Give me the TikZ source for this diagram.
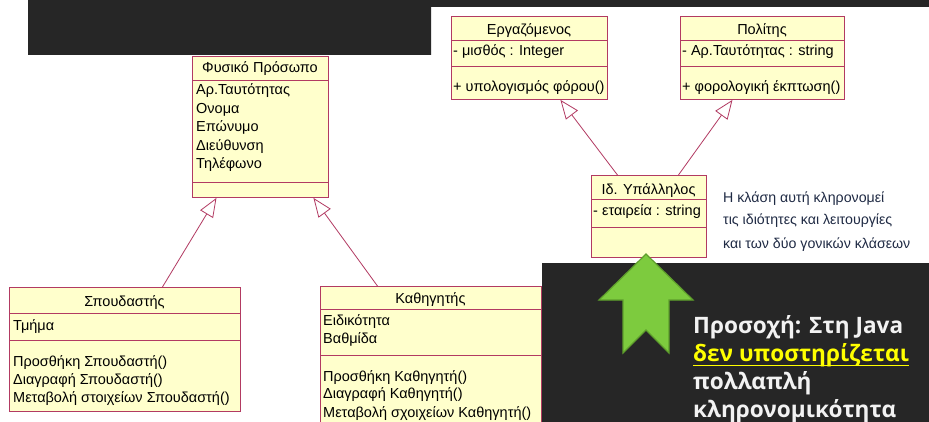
\documentclass[tikz,border=0pt]{standalone}
\usepackage{fontspec}
\setmainfont{Liberation Sans}
\newfontfamily\notefont{Open Sans}
\usetikzlibrary{arrows.meta,calc}
\definecolor{darkbg}{HTML}{262626}
\definecolor{clsfill}{HTML}{FFFFCC}
\definecolor{clsline}{HTML}{B23A62}
\definecolor{notecol}{HTML}{1F2A44}
\definecolor{grfill}{HTML}{7DCB3E}
\definecolor{grline}{HTML}{5E9E2C}
\definecolor{jyellow}{HTML}{FFFF00}
\definecolor{jwhite}{HTML}{F2F2F2}
\begin{document}
\begin{tikzpicture}[x=1pt,y=-1pt,
  clsbox/.style={draw=clsline, fill=clsfill, line width=0.9pt, inner sep=0pt, anchor=north west},
  divline/.style={draw=clsline, line width=0.9pt},
  ctxt/.style={font=\fontsize{14.5}{16}\selectfont, inner sep=0pt, anchor=base west, text=black},
  ctitle/.style={ctxt, anchor=base},
  ntxt/.style={font=\fontsize{14.2}{16}\selectfont, inner sep=0pt, anchor=base west, text=notecol},
  jtxt/.style={font=\notefont\bfseries\fontsize{22.6}{26}\selectfont, inner sep=0pt, anchor=base west, text=jwhite},
  gen/.style={draw=clsline, line width=0.8pt, -{Triangle[open, length=19pt, width=15pt, fill=white]}},
  darkbox/.style={fill=darkbg, draw=none}
]
\useasboundingbox (0,0) rectangle (929,422);
\clip (0,0) rectangle (929,422);
\fill[white] (0,0) rectangle (929,422);

% top dark banner
\fill[darkbg] (28,0) -- (929,0) -- (929,7) -- (431,7) -- (431,55) -- (28,55) -- cycle;

% ---------- Φυσικό Πρόσωπο ----------
\node[clsbox, minimum width=136, minimum height=141] (fp) at (192,56) {};
\draw[divline] (fp.west |- 0,80) -- (fp.east |- 0,80);
\draw[divline] (fp.west |- 0,182) -- (fp.east |- 0,182);
\node[ctitle] (fpt) at (260,73) {Φυσικό Πρόσωπο};
\node[ctxt] (fpa1) at (196,95) {Αρ.Ταυτότητας};
\node[ctxt] (fpa2) at (196,114) {Ονομα};
\node[ctxt] (fpa3) at (196,132) {Επώνυμο};
\node[ctxt] (fpa4) at (196,151) {Διεύθυνση};
\node[ctxt] (fpa5) at (196,169) {Τηλέφωνο};

% ---------- Σπουδαστής ----------
\node[clsbox, minimum width=231, minimum height=124] (st) at (9,287) {};
\draw[divline] (st.west |- 0,313) -- (st.east |- 0,313);
\draw[divline] (st.west |- 0,340) -- (st.east |- 0,340);
\node[ctitle] (stt) at (124.5,306) {Σπουδαστής};
\node[ctxt] (sta1) at (13,330) {Τμήμα};
\node[ctxt] (stm1) at (13,366) {Προσθήκη Σπουδαστή()};
\node[ctxt] (stm2) at (13,384) {Διαγραφή Σπουδαστή()};
\node[ctxt] (stm3) at (13,402) {Μεταβολή στοιχείων Σπουδαστή()};

% ---------- Καθηγητής ----------
\node[clsbox, minimum width=221, minimum height=150] (kt) at (320,286) {};
\draw[divline] (kt.west |- 0,309) -- (kt.east |- 0,309);
\draw[divline] (kt.west |- 0,355) -- (kt.east |- 0,355);
\node[ctitle] (ktt) at (430.5,303) {Καθηγητής};
\node[ctxt] (kta1) at (323,325) {Ειδικότητα};
\node[ctxt] (kta2) at (323,343) {Βαθμίδα};
\node[ctxt] (ktm1) at (323,381) {Προσθήκη Καθηγητή()};
\node[ctxt] (ktm2) at (323,398) {Διαγραφή Καθηγητή()};
\node[ctxt] (ktm3) at (323,417) {Μεταβολή σχοιχείων Καθηγητή()};

% ---------- Εργαζόμενος ----------
\node[clsbox, minimum width=156, minimum height=83] (er) at (451,16) {};
\draw[divline] (er.west |- 0,40) -- (er.east |- 0,40);
\draw[divline] (er.west |- 0,66) -- (er.east |- 0,66);
\node[ctitle] (ert) at (529,35) {Εργαζόμενος};
\node[ctxt] (era1) at (453,56) {- μισθός : Integer};
\node[ctxt] (erm1) at (453,92) {+ υπολογισμός φόρου()};

% ---------- Πολίτης ----------
\node[clsbox, minimum width=164, minimum height=83] (po) at (680,16) {};
\draw[divline] (po.west |- 0,40) -- (po.east |- 0,40);
\draw[divline] (po.west |- 0,66) -- (po.east |- 0,66);
\node[ctitle] (pot) at (762,35) {Πολίτης};
\node[ctxt] (poa1) at (682,56) {- Αρ.Ταυτότητας : string};
\node[ctxt] (pom1) at (682,92) {+ φορολογική έκπτωση()};

% ---------- Ιδ. Υπάλληλος ----------
\node[clsbox, minimum width=115, minimum height=82] (iy) at (591,175) {};
\draw[divline] (iy.west |- 0,199) -- (iy.east |- 0,199);
\draw[divline] (iy.west |- 0,227) -- (iy.east |- 0,227);
\node[ctitle] (iyt) at (648.5,195) {Ιδ. Υπάλληλος};
\node[ctxt] (iya1) at (593,215) {- εταιρεία : string};

% note text
\node[ntxt] (n1) at (723,203) {Η κλάση αυτή κληρονομεί};
\node[ntxt] (n2) at (723,225) {τις ιδιότητες και λειτουργίες};
\node[ntxt] (n3) at (723,248) {και των δύο γονικών κλάσεων};

% ---------- generalisations ----------
\draw[gen] ([xshift=37.5pt]st.north) -- ([xshift=-44pt]fp.south);
\draw[gen] ([xshift=-53.5pt]kt.north) -- ([xshift=53pt]fp.south);
\draw[gen] ([xshift=-31.5pt]iy.north) -- ([xshift=31pt]er.south);
\draw[gen] ([xshift=29.5pt]iy.north) -- ([xshift=-30pt]po.south);

% ---------- bottom-right dark box ----------
\fill[darkbg] (542,263) rectangle (929,422);
\draw[fill=grfill, draw=grline, line width=1.2pt, line join=miter]
  (646,254) -- (693,300) -- (669,300) -- (669,353) -- (646,330) -- (623,353) -- (623,300) -- (599,300) -- cycle;
\node[jtxt] (j1) at (693,333) {Προσοχή: Στη Java};
\node[jtxt, text=jyellow] (j2) at (693,361) {δεν υποστηρίζεται};
\draw[jyellow, line width=1.6pt] ([yshift=-4.5pt]j2.base west) -- ([yshift=-4.5pt]j2.base east);
\node[jtxt] (j3) at (693,389) {πολλαπλή};
\node[jtxt] (j4) at (693,417) {κληρονομικότητα};
\end{tikzpicture}
\end{document}
